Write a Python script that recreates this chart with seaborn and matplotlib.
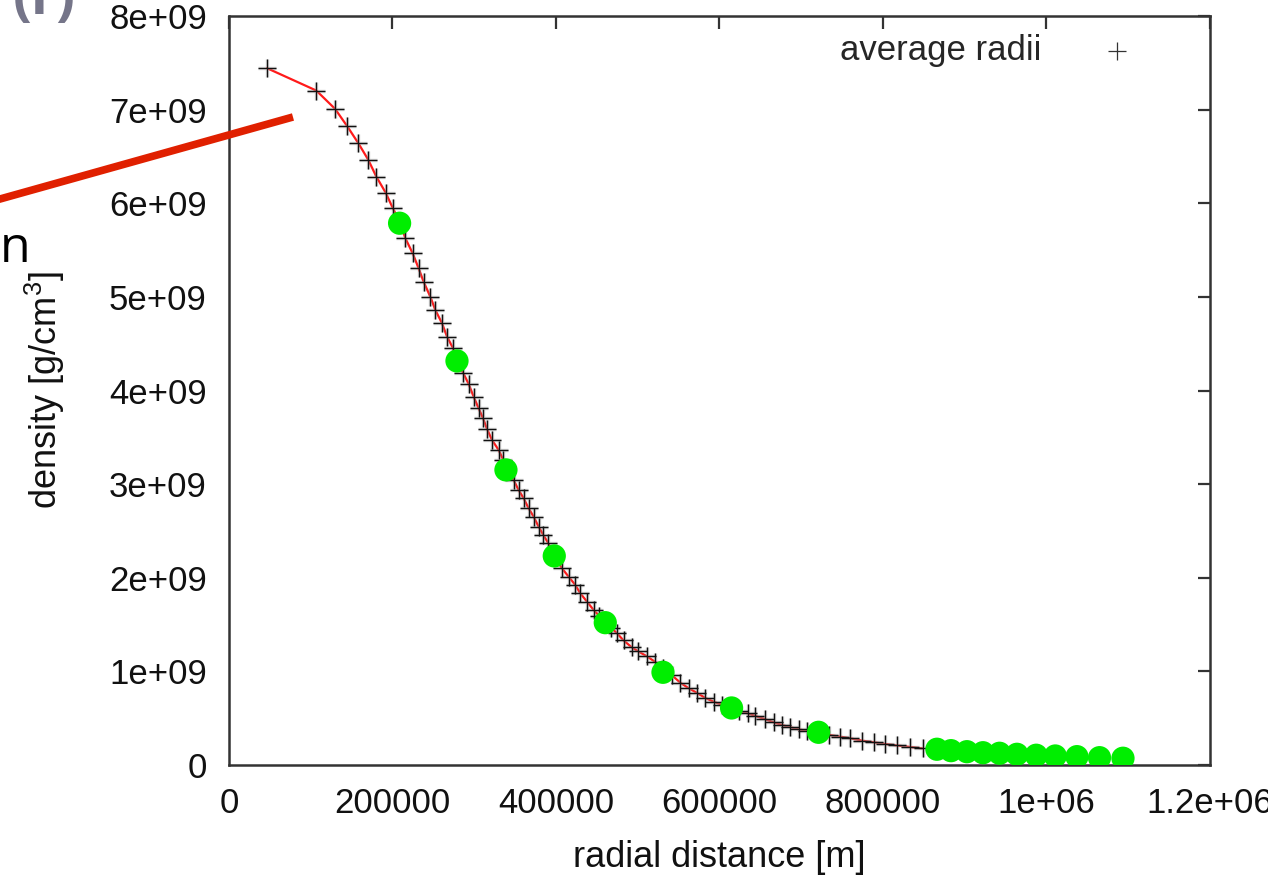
import matplotlib
matplotlib.use("Agg")
import matplotlib.pyplot as plt
import seaborn as sns
import pandas as pd
from matplotlib.lines import Line2D
from matplotlib.transforms import Bbox

# ---------------- data ----------------
radii_x = [46500, 106800, 129700, 144300, 158200, 170400, 180200, 191600, 200400, 209500,
           215700, 224600, 231900, 238000, 246200, 252400, 260500, 266700, 274000, 279300,
           286600, 293100, 299200, 305300, 310700, 315600, 321700, 329800, 335500, 339800,
           348100, 354200, 360400, 366500, 372600, 378700, 384500, 390600, 397900, 407300,
           415400, 423600, 429700, 437900, 446000, 453000, 460300, 467600, 474600, 482700,
           493000, 500700, 511300, 521500, 531200, 541600, 552000, 562200, 572500, 582600,
           592800, 603400, 614400, 624200, 634300, 643800, 656000, 666200, 676400, 686600,
           696700, 707400, 720800, 734300, 747800, 760000, 774300, 788500, 802800, 817500,
           833400, 849300]
radii_rho = [7.443, 7.204, 7.009, 6.827, 6.642, 6.464, 6.285, 6.114, 5.948, 5.791,
             5.627, 5.467, 5.307, 5.163, 5.003, 4.861, 4.719, 4.576, 4.452, 4.316,
             4.185, 4.071, 3.935, 3.811, 3.704, 3.590, 3.472, 3.365, 3.259, 3.152,
             3.045, 2.938, 2.849, 2.742, 2.653, 2.546, 2.457, 2.369, 2.233, 2.101,
             2.012, 1.923, 1.834, 1.745, 1.656, 1.592, 1.520, 1.464, 1.407, 1.330,
             1.255, 1.213, 1.160, 1.100, 1.036, 0.960, 0.880, 0.820, 0.770, 0.716,
             0.676, 0.641, 0.604, 0.577, 0.552, 0.524, 0.488, 0.456, 0.427, 0.403,
             0.381, 0.363, 0.342, 0.321, 0.302, 0.285, 0.260, 0.243, 0.224, 0.208,
             0.192, 0.176]

green_x = [208700, 278900, 338800, 397900, 460300, 530900, 614800, 721200,
           866000, 883200, 902700, 922300, 942600, 963900, 987500, 1010800,
           1037300, 1064900, 1093600]
green_rho = [5.787, 4.316, 3.152, 2.233, 1.520, 0.990, 0.609, 0.349,
             0.168, 0.153, 0.142, 0.131, 0.125, 0.114, 0.104, 0.096,
             0.089, 0.078, 0.072]

x_ticks = [0, 200000, 400000, 600000, 800000, 1000000, 1200000]
x_tick_labels = ["0", "200000", "400000", "600000", "800000", "1e+06", "1.2e+06"]
y_ticks = [0, 1e9, 2e9, 3e9, 4e9, 5e9, 6e9, 7e9, 8e9]
y_tick_labels = ["0", "1e+09", "2e+09", "3e+09", "4e+09", "5e+09", "6e+09", "7e+09", "8e+09"]

legend_label = "average radii"
x_label = "radial distance [m]"
y_label = r"density [g/cm$^3$]"

# ---------------- style ----------------
sns.set_theme(style="white")
plt.rcParams["font.family"] = ["Liberation Sans", "DejaVu Sans"]
plt.rcParams["mathtext.fontset"] = "custom"
plt.rcParams["mathtext.rm"] = "Liberation Sans"
plt.rcParams["mathtext.it"] = "Liberation Sans"

df_r = pd.DataFrame({"r": radii_x, "rho": [v * 1e9 for v in radii_rho]})
df_g = pd.DataFrame({"r": green_x, "rho": [v * 1e9 for v in green_rho]})

fig = plt.figure(figsize=(12.85, 8.81), dpi=100)
fig.patch.set_facecolor("white")
ax = fig.add_axes([0.1782, 0.1317, 0.7634, 0.8501])

# red connecting line
sns.lineplot(data=df_r, x="r", y="rho", ax=ax, color="#ff1a1a", lw=1.6,
             sort=False, zorder=2, legend=False)
# grey shadow of the cross markers
sns.scatterplot(data=df_r, x="r", y="rho", ax=ax, marker="+", s=150,
                color="#8a8a8a", linewidth=2.4, alpha=0.45, zorder=3, legend=False)
# black crosses
sns.scatterplot(data=df_r, x="r", y="rho", ax=ax, marker="+", s=150,
                color="#111111", linewidth=0.9, zorder=4, label=legend_label)
# green dots
sns.scatterplot(data=df_g, x="r", y="rho", ax=ax, marker="o", s=280,
                color="#00ee00", edgecolor="none", linewidth=0, zorder=5, legend=False)

ax.set_xlim(0, 1.2e6)
ax.set_ylim(0, 8e9)
ax.set_xticks(x_ticks)
ax.set_xticklabels(x_tick_labels)
ax.set_yticks(y_ticks)
ax.set_yticklabels(y_tick_labels)

ax.tick_params(axis="both", which="major", direction="in", length=9, width=1.6,
               color="#333333", labelsize=25, labelcolor="#111111",
               top=True, right=True, pad=16)
for sp in ax.spines.values():
    sp.set_visible(True)
    sp.set_color("#333333")
    sp.set_linewidth(1.8)

ax.set_xlabel(x_label, fontsize=26, color="#111111", labelpad=14)
ax.set_ylabel(y_label, fontsize=26, color="#111111", labelpad=30)

leg = ax.legend(loc="upper right", bbox_to_anchor=(0.941, 0.976), frameon=False,
                markerfirst=False, fontsize=25, borderaxespad=0, borderpad=0,
                handletextpad=1.2, handlelength=2.0)
for h in leg.legend_handles:
    h.set_linewidth(0.9)
    h.set_color("#333333")
    h.set_sizes([170])

# clip the last x label at the right edge like the cropped reference
fig.canvas.draw()
for lab in ax.get_xticklabels():
    if lab.get_text() == "1.2e+06":
        lab.set_clip_box(Bbox.from_extents(0, 0, 1268, 881))
        lab.set_clip_on(True)

# ---------------- overlay annotation (slide remnants) ----------------
fig.add_artist(Line2D([-0.05, 0.228], [0.7537, 0.8672], transform=fig.transFigure,
                      color="#e02000", lw=5.5, solid_capstyle="butt", zorder=10))
fig.text(0.0, 0.7026, "n", fontsize=36, family=["Open Sans", "DejaVu Sans"],
         color="black", ha="left", va="baseline")
fig.text(0.01, 0.984, "(r)", fontsize=40, family=["Open Sans", "DejaVu Sans"],
         fontweight="bold", color="#1a1a3a", ha="left", va="baseline", alpha=0.6)

fig.savefig("out.png", dpi=100, facecolor="white")
